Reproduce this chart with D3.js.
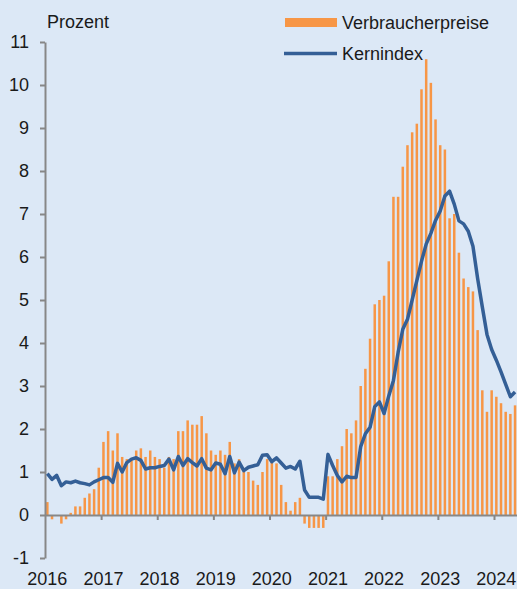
<!DOCTYPE html>
<html>

<head>
  <meta http-equiv="content-type" content="text/html; charset=utf-8">
  <title>Verbraucherpreise und Kernindex</title>
  <style>
    body {
      margin: 0;
      background: #dce8f6;
    }

    svg text {
      font-family: "Liberation Sans", Arial, sans-serif;
      font-size: 18px;
      fill: #1a1a1a;
    }

    .axis path,
    .axis line {
      stroke: #878787;
      stroke-width: 2;
    }
  </style>
</head>

<body>
  <svg id="canvas"></svg>
  <script src="https://cdnjs.cloudflare.com/ajax/libs/d3/7.8.5/d3.min.js"></script>
  <script>

    // monthly values, Jan 2016 - May 2024, in percent
    const startYear = 2016;
    const verbraucherpreise = [
      0.3, -0.1, 0.0, -0.2, -0.1, 0.05, 0.2, 0.2, 0.4, 0.5, 0.6, 1.1,
      1.7, 1.95, 1.5, 1.9, 1.35, 1.3, 1.3, 1.5, 1.55, 1.35, 1.5, 1.35,
      1.3, 1.1, 1.35, 1.3, 1.95, 1.95, 2.2, 2.1, 2.1, 2.3, 1.9, 1.5,
      1.4, 1.5, 1.4, 1.7, 1.2, 1.3, 1.0, 1.0, 0.8, 0.7, 1.0, 1.3,
      1.3, 1.2, 0.7, 0.3, 0.1, 0.3, 0.4, -0.2, -0.3, -0.3, -0.3, -0.3,
      0.9, 0.9, 1.3, 1.6, 2.0, 1.9, 2.2, 3.0, 3.4, 4.1, 4.9, 5.0,
      5.1, 5.9, 7.4, 7.4, 8.1, 8.6, 8.9, 9.1, 9.9, 10.6, 10.05, 9.2,
      8.6, 8.5, 6.9, 7.0, 6.1, 5.5, 5.3, 5.2, 4.3, 2.9, 2.4, 2.9,
      2.75, 2.6, 2.4, 2.35, 2.55
    ];
    const kernindex = [
      0.96, 0.83, 0.92, 0.68, 0.77, 0.75, 0.79, 0.75, 0.73, 0.7, 0.77, 0.82,
      0.87, 0.87, 0.76, 1.2, 1.0, 1.22, 1.3, 1.33, 1.27, 1.07, 1.1, 1.1,
      1.13, 1.15, 1.3, 1.05, 1.36, 1.15, 1.31, 1.22, 1.14, 1.31, 1.09, 1.05,
      1.21, 1.18, 0.96, 1.36, 0.98, 1.23, 1.03, 1.11, 1.14, 1.17, 1.39, 1.4,
      1.24, 1.33, 1.21, 1.09, 1.13, 1.07, 1.25, 0.58, 0.41, 0.41, 0.41, 0.37,
      1.41, 1.15, 0.92, 0.77, 0.9, 0.87, 0.87, 1.59, 1.89, 2.04, 2.52, 2.63,
      2.36, 2.77, 3.13, 3.78, 4.32, 4.55, 5.0, 5.45, 5.9, 6.3, 6.55, 6.85,
      7.07, 7.42, 7.53, 7.23, 6.84, 6.77, 6.6, 6.25, 5.5, 4.84, 4.2, 3.85,
      3.6, 3.33, 3.04, 2.75, 2.86
    ];
    const yearLabels = [2016, 2017, 2018, 2019, 2020, 2021, 2022, 2023, 2024];
    const yTicks = [-1, 0, 1, 2, 3, 4, 5, 6, 7, 8, 9, 10, 11];
    const legendItems = ["Verbraucherpreise", "Kernindex"];

    const dims = { width: 517, height: 589, left: 45, top: 42, bottom: 558, year_px: 56.125, bar_w: 2.5 };

    const svg = d3.select("svg#canvas")
      .attr("width", dims.width)
      .attr("height", dims.height);

    const x = d3.scaleLinear()
      .domain([startYear, startYear + 9])
      .range([dims.left, dims.left + 9 * dims.year_px]);

    const y = d3.scaleLinear()
      .domain([-1, 11])
      .range([dims.bottom, dims.top]);

    const monthPos = i => x(startYear + (i + 0.5) / 12);

    // bars
    svg.append("g").selectAll("rect")
      .data(verbraucherpreise)
      .enter().append("rect")
      .attr("x", (_, i) => monthPos(i) - dims.bar_w / 2)
      .attr("width", dims.bar_w)
      .attr("y", v => y(Math.max(0, v)))
      .attr("height", v => Math.abs(y(v) - y(0)))
      .attr("fill", "#f79646");

    // y axis, plain hyphen for the minus sign
    svg.append("g")
      .attr("class", "axis")
      .attr("transform", "translate(" + dims.left + ",0)")
      .call(d3.axisLeft(y).tickValues(yTicks).tickSize(5).tickSizeOuter(0).tickPadding(11)
        .tickFormat(v => String(v)))
      .call(g => g.selectAll("text").attr("font-size", null).attr("font-family", null));

    // x axis on the zero line
    svg.append("g")
      .attr("class", "axis")
      .attr("transform", "translate(0," + y(0) + ")")
      .call(d3.axisBottom(x).tickValues(yearLabels.slice(1)).tickSize(5).tickSizeOuter(0).tickFormat(""));

    svg.selectAll(".year_label")
      .data(yearLabels)
      .enter().append("text")
      .attr("class", "year_label")
      .attr("x", yr => monthPos((yr - startYear) * 12))
      .attr("y", 585)
      .attr("text-anchor", "middle")
      .text(yr => yr);

    // core index line
    const line = d3.line()
      .x((_, i) => monthPos(i))
      .y(v => y(v));

    svg.append("path")
      .datum(kernindex)
      .attr("d", line)
      .attr("fill", "none")
      .attr("stroke", "#345f96")
      .attr("stroke-width", 3.5)
      .attr("stroke-linejoin", "round");

    svg.append("text")
      .attr("x", 47)
      .attr("y", 28)
      .text("Prozent");

    // legend
    const legend = svg.append("g");
    legend.append("rect")
      .attr("x", 285).attr("y", 18)
      .attr("width", 52).attr("height", 9)
      .attr("fill", "#f79646");
    legend.append("line")
      .attr("x1", 284).attr("x2", 337)
      .attr("y1", 53.5).attr("y2", 53.5)
      .attr("stroke", "#345f96")
      .attr("stroke-width", 3.5);
    legend.selectAll("text")
      .data(legendItems)
      .enter().append("text")
      .attr("x", 342)
      .attr("y", (_, i) => 29 + i * 31)
      .text(t => t);

  </script>
</body>

</html>
